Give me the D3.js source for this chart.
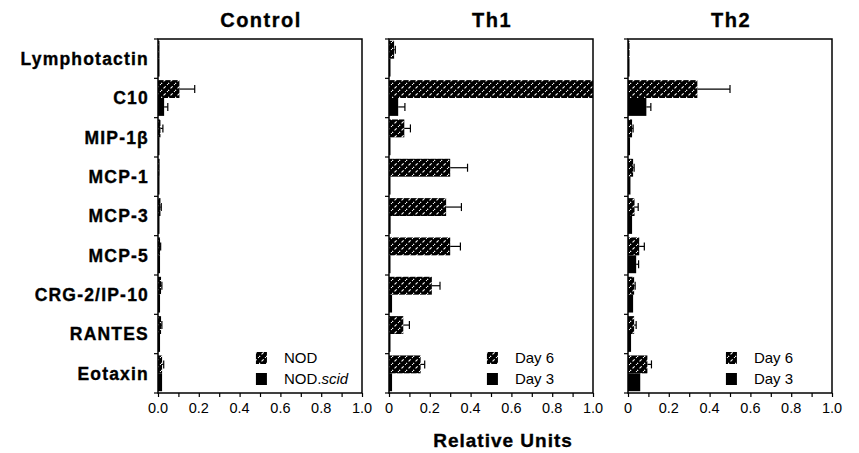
<!DOCTYPE html>
<html lang="en">
<head>
<meta charset="UTF-8">
<title>Chemokine expression</title>
<script src="https://d3js.org/d3.v7.min.js"></script>
<style>
  body { margin:0; background:#fff; }
  svg { font-family: "Liberation Sans", Arial, Helvetica, sans-serif; }
  .heavy { font-weight: bold; stroke: #000; stroke-width: 0.35px; }
</style>
</head>
<body>
<svg id="chart" width="859" height="453"></svg>
<script>

// categories, top to bottom
var categories = ["Lymphotactin", "C10", "MIP-1\u03b2", "MCP-1", "MCP-3", "MCP-5", "CRG-2/IP-10", "RANTES", "Eotaxin"];

// Control: NOD (hatched) and NOD.scid (solid)
var controlNod     = [0.003, 0.105, 0.012, 0.008, 0.012, 0.010, 0.015, 0.015, 0.020];
var controlNodErr  = [0.000, 0.075, 0.012, 0.000, 0.004, 0.003, 0.004, 0.004, 0.008];
var controlScid    = [0.002, 0.030, 0.004, 0.004, 0.006, 0.010, 0.010, 0.010, 0.020];
var controlScidErr = [0.000, 0.018, 0.000, 0.000, 0.000, 0.000, 0.000, 0.000, 0.000];

// Th1: Day 6 (hatched) and Day 3 (solid)
var th1Day6    = [0.025, 1.000, 0.075, 0.300, 0.280, 0.300, 0.210, 0.070, 0.155];
var th1Day6Err = [0.006, 0.000, 0.030, 0.085, 0.075, 0.050, 0.040, 0.030, 0.020];
var th1Day3    = [0.004, 0.045, 0.005, 0.003, 0.008, 0.005, 0.015, 0.005, 0.015];
var th1Day3Err = [0.000, 0.033, 0.000, 0.000, 0.000, 0.000, 0.000, 0.000, 0.000];

// Th2: Day 6 (hatched) and Day 3 (solid)
var th2Day6    = [0.006, 0.340, 0.020, 0.025, 0.032, 0.055, 0.030, 0.030, 0.095];
var th2Day6Err = [0.000, 0.160, 0.005, 0.005, 0.018, 0.025, 0.005, 0.010, 0.020];
var th2Day3    = [0.003, 0.090, 0.010, 0.012, 0.020, 0.040, 0.025, 0.015, 0.060];
var th2Day3Err = [0.000, 0.022, 0.000, 0.000, 0.000, 0.012, 0.000, 0.000, 0.000];

var xTicks = [0, 0.2, 0.4, 0.6, 0.8, 1.0];
var xTickLabels = [["0.0", "0.2", "0.4", "0.6", "0.8", "1.0"], ["0", "0.2", "0.4", "0.6", "0.8", "1.0"], ["0", "0.2", "0.4", "0.6", "0.8", "1.0"]];

var panels = [
  { title: "Control", left: 158, a: controlNod, aErr: controlNodErr, b: controlScid, bErr: controlScidErr, legend: ["NOD", "NOD.scid"] },
  { title: "Th1",     left: 389, a: th1Day6, aErr: th1Day6Err, b: th1Day3, bErr: th1Day3Err, legend: ["Day 6", "Day 3"] },
  { title: "Th2",     left: 628, a: th2Day6, aErr: th2Day6Err, b: th2Day3, bErr: th2Day3Err, legend: ["Day 6", "Day 3"] }
];

var svg = d3.select("#chart");
var plotTop = 39, plotBottom = 393, panelW = 204;

// hatch pattern: black with white dashed diagonals
var defs = svg.append("defs");
var pat = defs.append("pattern")
  .attr("id", "hatch")
  .attr("patternUnits", "userSpaceOnUse")
  .attr("width", 7).attr("height", 7);
pat.append("rect").attr("width", 7).attr("height", 7).attr("fill", "#000");
pat.append("path")
  .attr("d", "M-1,8 L8,-1")
  .attr("stroke", "#fff")
  .attr("stroke-width", 1.1)
  .attr("stroke-dasharray", "3,2");

var y = d3.scaleBand().domain(categories).range([plotTop, plotBottom]);
var sub = d3.scaleBand().domain(["a", "b"]).range([0, y.bandwidth()]).paddingOuter(0.1);

// category labels
svg.append("g").selectAll("text")
  .data(categories)
  .enter().append("text")
    .attr("class", "heavy")
    .attr("x", 149)
    .attr("y", function(d) { return y(d) + y.bandwidth() / 2; })
    .attr("dy", "0.36em")
    .attr("text-anchor", "end")
    .style("font-size", "17.5px")
    .style("letter-spacing", "1.2px")
    .text(function(d) { return d; });

panels.forEach(function(p, pi) {
  var x = d3.scaleLinear().domain([0, 1]).range([p.left, p.left + panelW]);
  var g = svg.append("g");

  // title
  g.append("text")
    .attr("class", "heavy")
    .attr("x", x(0.5) + 1).attr("y", 27)
    .attr("text-anchor", "middle")
    .style("font-size", "20px")
    .style("letter-spacing", "1.5px")
    .text(p.title);

  // bars
  var rows = categories.map(function(c, i) {
    return { c: c, a: p.a[i], aErr: p.aErr[i], b: p.b[i], bErr: p.bErr[i] };
  });

  ["a", "b"].forEach(function(k) {
    g.append("g").selectAll("rect")
      .data(rows)
      .enter().append("rect")
        .attr("x", x(0))
        .attr("y", function(d) { return y(d.c) + sub(k); })
        .attr("width", function(d) { return Math.max(x(d[k]) - x(0), 1.5); })
        .attr("height", sub.bandwidth())
        .attr("fill", k == "a" ? "url(#hatch)" : "#000");

    var errs = rows.filter(function(d) { return d[k + "Err"] > 0; });
    var eg = g.append("g").attr("stroke", "#000").attr("stroke-width", 1.2);
    eg.selectAll("line.h")
      .data(errs)
      .enter().append("line")
        .attr("x1", function(d) { return x(d[k]); })
        .attr("x2", function(d) { return x(d[k] + d[k + "Err"]); })
        .attr("y1", function(d) { return y(d.c) + sub(k) + sub.bandwidth() / 2; })
        .attr("y2", function(d) { return y(d.c) + sub(k) + sub.bandwidth() / 2; });
    eg.selectAll("line.cap")
      .data(errs)
      .enter().append("line")
        .attr("x1", function(d) { return x(d[k] + d[k + "Err"]); })
        .attr("x2", function(d) { return x(d[k] + d[k + "Err"]); })
        .attr("y1", function(d) { return y(d.c) + sub(k) + sub.bandwidth() / 2 - 4; })
        .attr("y2", function(d) { return y(d.c) + sub(k) + sub.bandwidth() / 2 + 4; });
  });

  // frame
  g.append("rect")
    .attr("x", x(0)).attr("y", plotTop)
    .attr("width", panelW).attr("height", plotBottom - plotTop)
    .attr("fill", "none").attr("stroke", "#000").attr("stroke-width", 1.5);

  // left ticks at band edges
  var edges = categories.map(function(c) { return y(c); }).concat([plotBottom]);
  g.append("g").selectAll("line")
    .data(edges)
    .enter().append("line")
      .attr("x1", x(0) - 4).attr("x2", x(0))
      .attr("y1", function(d) { return d; }).attr("y2", function(d) { return d; })
      .attr("stroke", "#000").attr("stroke-width", 1.2);

  // bottom axis
  var ax = g.append("g")
    .attr("transform", "translate(0," + plotBottom + ")")
    .call(d3.axisBottom(x).tickValues(d3.range(0, 1.01, 0.1)).tickSize(4).tickFormat(""));
  ax.select(".domain").remove();
  ax.selectAll("line").attr("stroke-width", 1.2);

  g.append("g").selectAll("text")
    .data(xTicks)
    .enter().append("text")
      .attr("x", function(d) { return x(d); })
      .attr("y", 413)
      .attr("text-anchor", "middle")
      .style("font-size", "14.5px")
      .text(function(d, i) { return xTickLabels[pi][i]; });

  // legend
  var lx = x(0.48);
  var lg = g.append("g");
  [0, 1].forEach(function(j) {
    var ly = 358 + j * 21;
    lg.append("rect")
      .attr("x", lx).attr("y", ly - 6)
      .attr("width", 11).attr("height", 12)
      .attr("fill", j == 0 ? "url(#hatch)" : "#000");
    var t = lg.append("text")
      .attr("x", lx + 28).attr("y", ly)
      .attr("dy", "0.35em")
      .style("font-size", "15px");
    var lab = p.legend[j];
    if (lab.indexOf(".") > 0) {
      t.append("tspan").text(lab.split(".")[0] + ".");
      t.append("tspan").style("font-style", "italic").text(lab.split(".")[1]);
    } else {
      t.text(lab);
    }
  });
});

svg.append("text")
  .attr("class", "heavy")
  .attr("x", 503).attr("y", 447)
  .attr("text-anchor", "middle")
  .style("font-size", "19px")
  .style("letter-spacing", "1px")
  .text("Relative Units");

</script>
</body>
</html>
